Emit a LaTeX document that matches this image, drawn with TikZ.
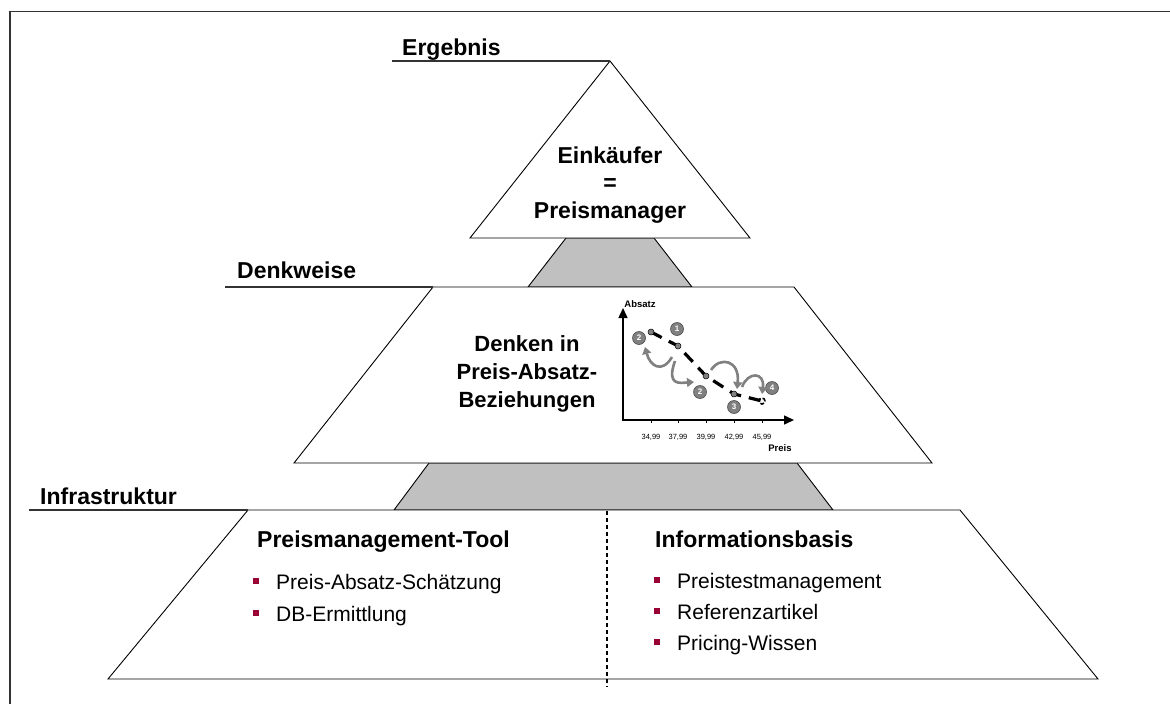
\documentclass[tikz,border=0pt]{standalone}
\usepackage{fontspec}
\setmainfont{Liberation Sans}
\usetikzlibrary{positioning, arrows.meta}
\definecolor{bulletred}{RGB}{153,0,51}
\definecolor{jointgray}{RGB}{192,192,192}
\definecolor{markgray}{RGB}{128,128,128}
\newcommand{\bul}{\llap{\textcolor{bulletred}{\rule[5pt]{6pt}{6pt}}\hspace{17pt}}}
\tikzset{
    tier/.style={draw=black, fill=white, line width=0.9pt}, % white levels of the pyramid
    joint/.style={draw=black, fill=jointgray, line width=0.9pt}, % gray pieces between the levels
    tierline/.style={draw=black!80, line width=1.4pt}, % rule under each level title
    title/.style={font=\fontsize{23}{27}\selectfont\bfseries, anchor=base west, inner sep=0pt},
    bigtext/.style={font=\fontsize{23}{27}\selectfont\bfseries, anchor=base, inner sep=0pt},
    item/.style={font=\fontsize{21}{25}\selectfont, anchor=base west, inner sep=0pt},
    axis/.style={line width=1.5pt, -{Triangle[length=10pt,width=9pt]}},
    tick/.style={font=\fontsize{7.5}{8}\selectfont, inner sep=0pt},
    pin/.style={circle, draw=black, fill=markgray, line width=0.5pt, minimum size=6pt, inner sep=0pt},
    marker/.style={circle, draw=black!70, fill=markgray, line width=0.6pt, minimum size=13pt,
        inner sep=0pt, text=white, font=\fontsize{8}{8}\selectfont\bfseries},
    move/.style={draw=markgray, line width=2.6pt, -{Triangle[length=7pt,width=9pt]}},
}

\begin{document}
\begin{tikzpicture}[x=1pt, y=-1pt]
    \useasboundingbox (0,0) rectangle (1170,704);
    % frame
    \draw[black!80, line width=1.5pt] (10,704) -- (10,11.5) -- (1170,11.5);

    % pyramid
    \draw[joint] (566,238) -- (654,238) -- (692,287) -- (528,287) -- cycle;
    \draw[joint] (429,463) -- (797,463) -- (833,510) -- (394,510) -- cycle;
    \draw[tier] (610,61) -- (750,238) -- (470,238) -- cycle;
    \draw[tier] (433,287) -- (794,287) -- (932,463) -- (294,463) -- cycle;
    \draw[tier] (248,510) -- (960,510) -- (1098,679) -- (108,679) -- cycle;
    \draw[dashed, line width=1.2pt, dash pattern=on 4pt off 3pt] (607,511) -- (607,687);

    % level titles
    \draw[tierline] (392,61) -- (610,61);
    \draw[tierline] (225,287) -- (433,287);
    \draw[tierline] (29,510) -- (248,510);
    \node[title] (ergebnis) at (402,55) {Ergebnis};
    \node[title] (denkweise) at (237,278) {Denkweise};
    \node[title] (infra) at (40,504) {Infrastruktur};

    % top
    \node[bigtext] (buyer) at (610,163) {Einkäufer};
    \node[bigtext] (equals) at (610,190.5) {=};
    \node[bigtext] (manager) at (610,218) {Preismanager};

    % middle
    \node[bigtext, font=\fontsize{22}{27}\selectfont\bfseries] (think1) at (527,351) {Denken in};
    \node[bigtext, font=\fontsize{22}{27}\selectfont\bfseries] (think2) at (527,379) {Preis-Absatz-};
    \node[bigtext, font=\fontsize{22}{27}\selectfont\bfseries] (think3) at (527,407) {Beziehungen};

    % chart
    \coordinate (origin) at (623,420);
    \coordinate (ytip) at (623,308);
    \coordinate (xtip) at (794,420);
    \draw[axis] (origin) -- (ytip);
    \draw[axis] (622,420) -- (xtip);
    \node[font=\fontsize{9.5}{10}\selectfont\bfseries, inner sep=0pt] (absatz) at (640,304) {Absatz};
    \node[font=\fontsize{9.5}{10}\selectfont\bfseries, inner sep=0pt] (preis) at (780,448) {Preis};
    \foreach \x/\p in {651/{34,99}, 678/{37,99}, 706/{39,99}, 734/{42,99}, 762/{45,99}} {
        \draw[line width=0.6pt] (\x,420) -- (\x,423);
        \node[tick] at (\x,437) {\p};
    }
    \coordinate (pA) at (651,332);
    \coordinate (pB) at (678,346);
    \coordinate (pD) at (706,376);
    \coordinate (pE) at (734,394);
    \coordinate (pF) at (762,401);
    \draw[line width=3.2pt, dash pattern=on 12pt off 8pt] (pA) -- (pB) -- (pD) -- (pE) -- (pF);
    \draw[line width=1.6pt, dash pattern=on 4pt off 2pt] (pF) circle (3pt);
    \foreach \p in {pA, pB, pD, pE}
        \node[pin] at (\p) {};
    \node[marker] (m2a) at (639,338) {2};
    \node[marker] (m1) at (677,329) {1};
    \node[marker] (m2b) at (700,392) {2};
    \node[marker] (m3) at (734,407) {3};
    \node[marker] (m4) at (772,388) {4};
    \coordinate (s1) at (672,357);
    \coordinate (e1) at (645,347);
    \coordinate (s2) at (675,361);
    \coordinate (e2) at (694,382);
    \coordinate (s3) at (711,370);
    \coordinate (e3) at (737,389);
    \coordinate (s4) at (742,387);
    \coordinate (e4) at (762,394);
    \draw[move] (s1) .. controls (662,374) and (650,366) .. (e1);
    \draw[move] (s2) .. controls (666,386) and (680,383) .. (e2);
    \draw[move] (s3) .. controls (720,356) and (740,360) .. (e3);
    \draw[move] (s4) .. controls (748,371) and (765,372) .. (e4);

    % bottom
    \node[title] (tool) at (257,547) {Preismanagement-Tool};
    \node[item] (tool1) at (276,589) {\bul Preis-Absatz-Schätzung};
    \node[item] (tool2) at (276,621) {\bul DB-Ermittlung};
    \node[title] (info) at (655,547) {Informationsbasis};
    \node[item] (info1) at (677,588) {\bul Preistestmanagement};
    \node[item] (info2) at (677,619) {\bul Referenzartikel};
    \node[item] (info3) at (677,650) {\bul Pricing-Wissen};
\end{tikzpicture}
\end{document}
